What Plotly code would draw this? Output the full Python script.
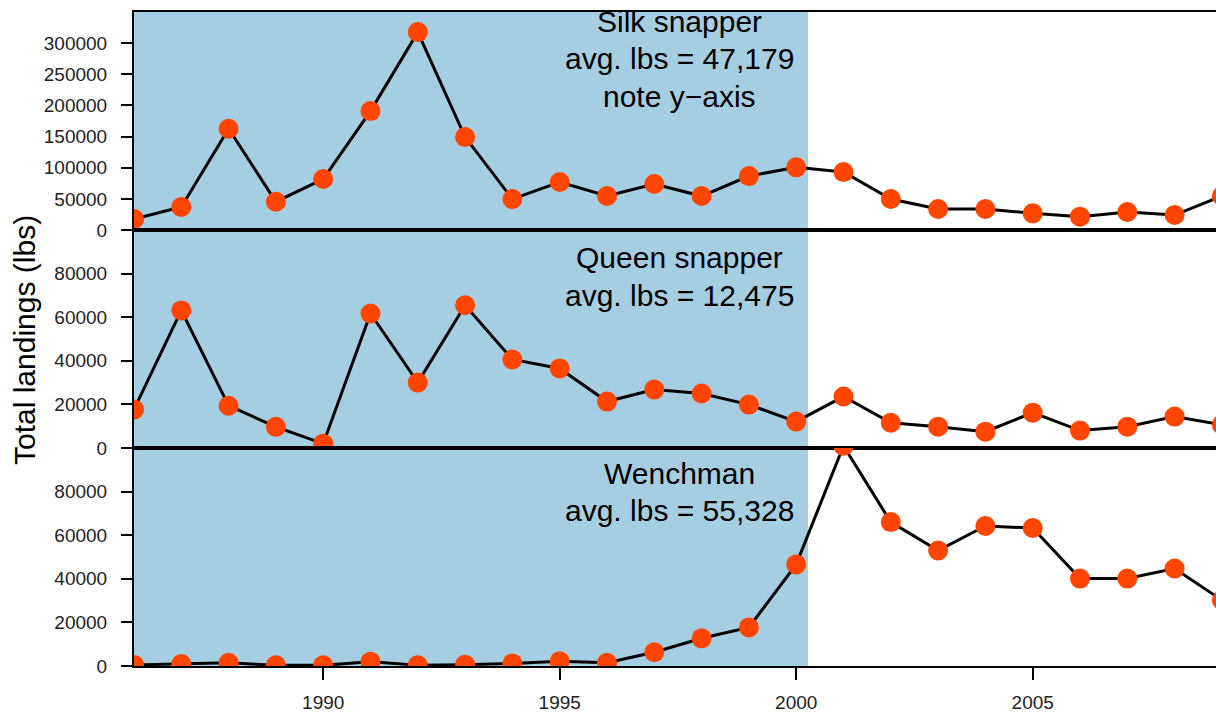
import plotly.graph_objects as go
from plotly.subplots import make_subplots

years = list(range(1986, 2010))

silk_snapper = [17600, 36900, 162500, 45400, 81800, 190900, 317700, 149200,
                49700, 77000, 54500, 73800, 54500, 86600, 100600, 93000,
                49700, 33700, 33700, 26800, 21400, 28900, 24000, 54500]

queen_snapper = [17700, 63100, 19400, 9700, 2000, 61700, 30000, 65500,
                 40600, 36500, 21300, 26800, 25000, 19900, 12100, 23600,
                 11600, 9800, 7500, 16200, 8000, 9800, 14400, 10700]

wenchman = [500, 900, 1500, 300, 300, 2000, 400, 600,
            1200, 2200, 1500, 6300, 12700, 17700, 46600, 101000,
            66000, 53000, 64200, 63300, 40100, 40100, 44700, 30200]

panel_labels = [
    ["Silk snapper", "avg. lbs = 47,179", "note y\u2212axis"],
    ["Queen snapper", "avg. lbs = 12,475"],
    ["Wenchman", "avg. lbs = 55,328"],
]

x_ticks = [1990, 1995, 2000, 2005]
shade_end = 2000.25

W, H = 1216, 713
L, R, T, B = 134, 0, 12, 45
plot_w = W - L - R
plot_h = H - T - B
px_per_year = 47.3
x_end = 1986 + plot_w / px_per_year

fig = make_subplots(rows=3, cols=1, shared_xaxes=True, vertical_spacing=0)

series = [silk_snapper, queen_snapper, wenchman]
for i, s in enumerate(series, start=1):
    fig.add_trace(go.Scatter(
        x=years, y=s, mode="lines+markers",
        line=dict(color="black", width=3),
        marker=dict(color="#FF4500", size=20, line=dict(width=0)),
        cliponaxis=True, showlegend=False, hoverinfo="x+y"), row=i, col=1)

# shaded period
for i in range(1, 4):
    yref = "y domain" if i == 1 else f"y{i} domain"
    fig.add_shape(type="rect", xref="x", yref=yref, x0=1985, x1=shade_end,
                  y0=0, y1=1, fillcolor="#A6CEE3", line=dict(width=0),
                  layer="below")

font_fam = "Liberation Sans, Arial, Helvetica, sans-serif"

fig.update_xaxes(range=[1986, x_end], showline=True, mirror=True,
                 linecolor="black", linewidth=1.5, showgrid=False,
                 zeroline=False, ticks="", showticklabels=False)
fig.update_xaxes(row=3, col=1, tickvals=x_ticks, ticks="outside",
                 ticklen=12, tickwidth=2, tickcolor="black",
                 showticklabels=True, ticklabelstandoff=6,
                 tickfont=dict(size=19, color="#222", family=font_fam))

yranges = [[0, 350000], [0, 100000], [0, 100000]]
ytickvals = [list(range(0, 300001, 50000)), list(range(0, 80001, 20000)),
             list(range(0, 80001, 20000))]
for i in range(3):
    fig.update_yaxes(row=i + 1, col=1, range=yranges[i], tickvals=ytickvals[i],
                     tickformat="d", showline=True, mirror=False,
                     linecolor="black", linewidth=2, showgrid=False,
                     zeroline=False, ticks="outside", ticklen=11, tickwidth=2,
                     tickcolor="black", ticklabelstandoff=10,
                     tickfont=dict(size=19, color="#222", family=font_fam))

# panel text
line_px = [[22, 59, 97], [258, 296], [475, 512]]
for labels, ys in zip(panel_labels, line_px):
    for txt, ypx in zip(labels, ys):
        fig.add_annotation(xref="paper", yref="paper",
                           x=(679 - L) / plot_w, y=(H - B - ypx) / plot_h,
                           text=txt, showarrow=False, xanchor="center",
                           yanchor="middle",
                           font=dict(size=30, color="black", family=font_fam))

fig.add_annotation(xref="paper", yref="paper", x=(25 - L) / plot_w,
                   y=(H - B - 341) / plot_h, text="Total landings (lbs)",
                   textangle=-90, showarrow=False, xanchor="center",
                   yanchor="middle",
                   font=dict(size=30, color="black", family=font_fam))

fig.update_layout(width=W, height=H, margin=dict(l=L, r=R, t=T, b=B),
                  plot_bgcolor="white", paper_bgcolor="white",
                  font=dict(family=font_fam))

fig.write_html("out.html")
